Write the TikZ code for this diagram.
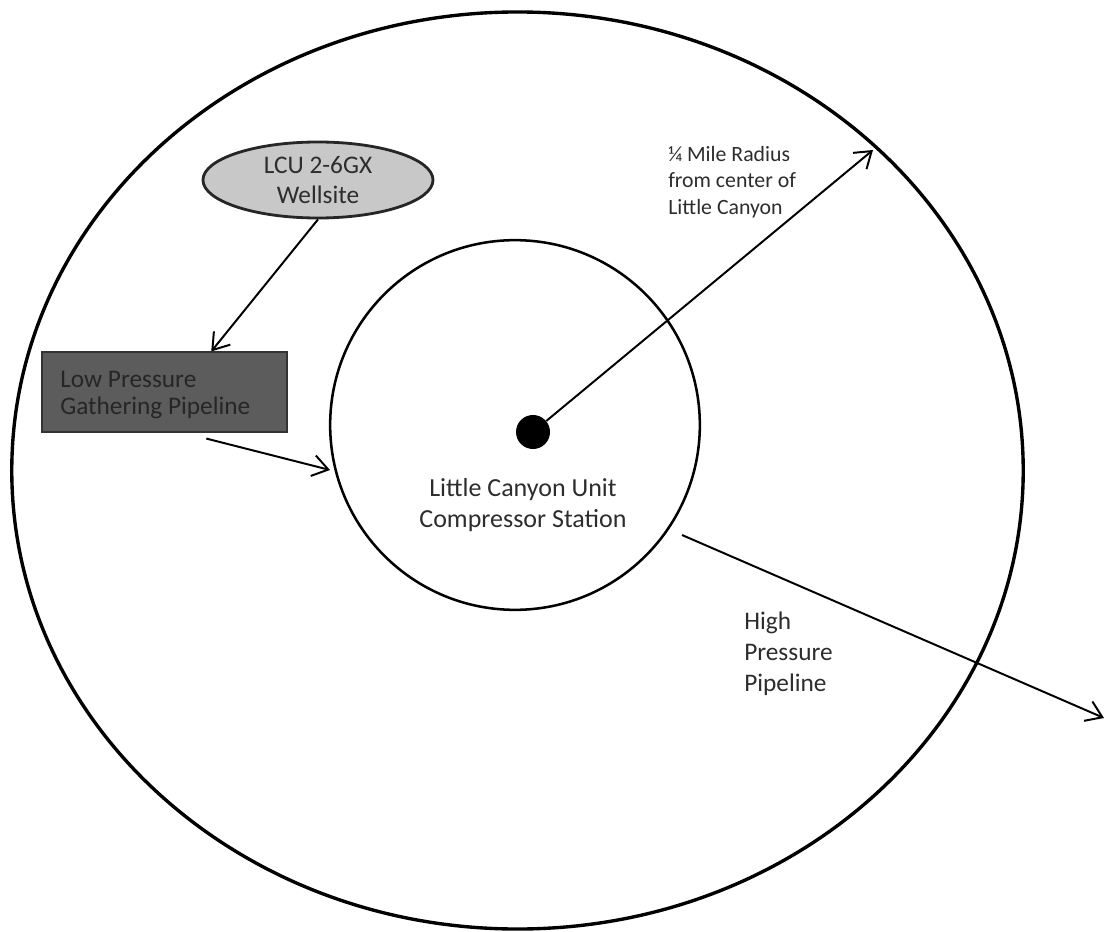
\documentclass[tikz,border=0pt]{standalone}
\usepackage{fontspec}
\setmainfont{Carlito}
\usetikzlibrary{shapes.geometric,arrows.meta,calc}
\definecolor{inkgray}{RGB}{45,45,45}
\definecolor{wellgray}{RGB}{200,200,200}
\definecolor{boxgray}{RGB}{92,92,92}

\begin{document}
\begin{tikzpicture}[x=0.025cm,y=-0.025cm,
    pipe/.style={draw=black, line width=1.4pt,
      -{Straight Barb[length=11pt,width=15pt,line width=1.4pt]}},
    caption/.style={text=inkgray, inner sep=0pt}]
  \useasboundingbox (0,0) rectangle (1106,932);
  % quarter mile boundary and compressor yard
  \draw[line width=2.4pt] (517.5,470.5) ellipse (12.64cm and 11.46cm);
  \draw[line width=1.8pt] (515,425) circle (4.62cm);
  \node[circle, fill=black, inner sep=0pt, minimum size=0.85cm] (hub) at (533,432) {};
  % wellsite and gathering line
  \node[ellipse, draw=black!85, line width=2pt, fill=wellgray,
    minimum width=5.75cm, minimum height=1.9cm, inner sep=0pt] (well) at (318,180) {};
  \node[caption, align=center, font=\fontsize{18}{21.3}\selectfont] at (well.center) {LCU 2-6GX\\Wellsite};
  \node[rectangle, draw=black!80, line width=0.8pt, fill=boxgray,
    minimum width=6.125cm, minimum height=2cm, inner sep=0pt] (gather) at (164.5,392) {};
  \node[caption, anchor=west, align=left, text=black!85,
    font=\fontsize{18}{19}\selectfont] at (60,395) {Low Pressure\\Gathering Pipeline};
  % labels
  \node[caption, align=center, font=\fontsize{18.5}{22.6}\selectfont] (station) at (523,505)
    {Little Canyon Unit\\Compressor Station};
  \node[caption, anchor=west, align=left, font=\fontsize{15.5}{18.8}\selectfont] (radius) at (668,182)
    {¼ Mile Radius\\from center of\\Little Canyon};
  \node[caption, anchor=west, align=left, font=\fontsize{18}{22}\selectfont] (highp) at (744,654)
    {High\\Pressure\\Pipeline};
  % arrow ends
  \coordinate (yard-in) at (330,470);
  \coordinate (yard-out) at (682,535);
  \coordinate (rim) at (873,150);
  \coordinate (sales) at (1104,718);
  \draw[pipe] (well.south) -- ($(gather.north west)!0.69!(gather.north east)$);
  \draw[pipe] ($(gather.south west)!0.67!(gather.south east)+(0,6)$) -- (yard-in);
  \draw[pipe] (hub) -- (rim);
  \draw[pipe] (yard-out) -- (sales);
\end{tikzpicture}
\end{document}
